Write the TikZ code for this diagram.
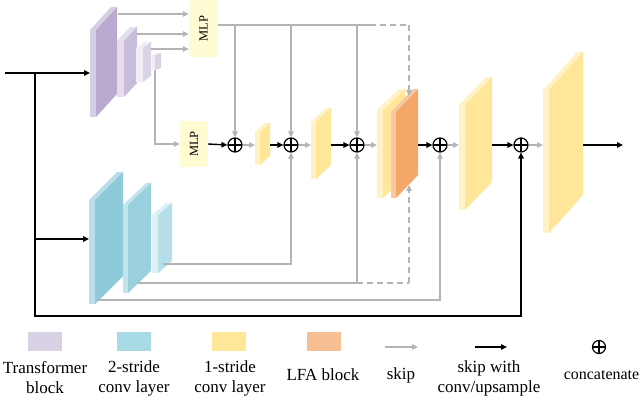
\documentclass[tikz,border=0pt]{standalone}
\usepackage{fontspec}
\setmainfont{Liberation Serif}
\usepackage{graphicx}
\usetikzlibrary{arrows.meta,calc}
\definecolor{lgray}{HTML}{B4B4B4}
\definecolor{purF}{HTML}{BBAACF}
\definecolor{purS}{HTML}{D7CEE4}
\definecolor{purF2}{HTML}{C7BCDA}
\definecolor{purS2}{HTML}{E3DDED}
\definecolor{purF3}{HTML}{DAD3E7}
\definecolor{purS3}{HTML}{F0EDF5}
\definecolor{bluF}{HTML}{8FCADB}
\definecolor{bluS}{HTML}{B8DFE9}
\definecolor{bluF2}{HTML}{9ACFDE}
\definecolor{bluS2}{HTML}{C2E4EC}
\definecolor{bluF3}{HTML}{B5DEE8}
\definecolor{bluS3}{HTML}{DDF0F4}
\definecolor{yelF}{HTML}{FFE699}
\definecolor{yelS}{HTML}{FFF2C6}
\definecolor{oraF}{HTML}{F4A868}
\definecolor{oraS}{HTML}{F8C8A0}
\definecolor{mlpc}{HTML}{FFFBD2}
\definecolor{legP}{HTML}{D9D2E4}
\definecolor{legB}{HTML}{A8DBE6}
\definecolor{legY}{HTML}{FFE699}
\definecolor{legO}{HTML}{F8BE94}
% xl t xr ytl ytr ybl front side
\newcommand\myslab[8]{%
  \pgfmathsetmacro\dd{#4-#5}%
  \fill[#8] (#1,#4) -- (#1+#2,#4) -- (#1+#2,#6) -- (#1,#6) -- cycle;
  \fill[#8] (#1,#4) -- (#3-#2,#5) -- (#3,#5) -- (#1+#2,#4) -- cycle;
  \fill[#7] (#1+#2,#4) -- (#3,#5) -- (#3,#6-\dd) -- (#1+#2,#6) -- cycle;
}
\begin{document}
\begin{tikzpicture}[x=1pt,y=-1pt,
  gl/.style={draw=lgray,line width=1.3pt,-{Triangle[length=6pt,width=5.5pt]}},
  gline/.style={draw=lgray,line width=1.3pt},
  bl/.style={draw=black,line width=1.4pt,-{Triangle[length=6pt,width=5.5pt]}},
  bline/.style={draw=black,line width=1.4pt},
  dl/.style={gl,dash pattern=on 6pt off 4pt},
  dline/.style={gline,dash pattern=on 6pt off 4pt},
  oplus/.style={circle,draw=black,line width=1.2pt,minimum size=14pt,inner sep=0pt,
    path picture={\draw[line width=1.2pt] (path picture bounding box.north) -- (path picture bounding box.south)
      (path picture bounding box.west) -- (path picture bounding box.east);}},
  mlp/.style={fill=mlpc,inner sep=0pt,font=\fontsize{12.5}{13}\selectfont},
  legtxt/.style={font=\fontsize{17}{20}\selectfont,align=center,inner sep=0pt},
  sw/.style={inner sep=0pt,minimum width=34pt,minimum height=19pt}]
\useasboundingbox (0,0) rectangle (640,398);

% transformer slabs
\myslab{90}{6}{117}{30}{7}{117}{purF}{purS}
\myslab{117}{7}{137}{41}{27}{97}{purF2}{purS2}
\myslab{136}{7}{151}{48}{42}{82}{purF3}{purS3}
\myslab{152}{3}{161}{55}{53}{70}{purF3}{purS3}
% conv slabs
\myslab{89}{6}{123}{200}{172}{304}{bluF}{bluS}
\myslab{123}{5}{151}{205}{183}{293}{bluF2}{bluS2}
\myslab{152}{6}{172}{215}{203}{273}{bluF3}{bluS3}
% decoder slabs
\myslab{255}{5}{270}{132}{123}{165}{yelF}{yelS}
\myslab{311}{5}{331}{122}{108}{179}{yelF}{yelS}
\myslab{377}{6}{405}{110}{89}{198}{yelF}{yelS}
\myslab{391}{5}{418}{112}{89}{198}{oraF}{oraS}
\myslab{459}{6}{492}{105}{77}{210}{yelF}{yelS}
\myslab{543}{6}{583}{90}{52}{233}{yelF}{yelS}

% MLP nodes
\node[mlp,minimum width=29pt,minimum height=57pt] (mlp1) at (203.5,28.5) {\rotatebox{90}{MLP}};
\node[mlp,minimum width=28pt,minimum height=46pt] (mlp2) at (194,144) {\rotatebox{90}{MLP}};

% concatenation nodes
\node[oplus] (c1) at (235,145) {};
\node[oplus] (c2) at (291,145) {};
\node[oplus] (c3) at (357,145) {};
\node[oplus] (c4) at (440,145) {};
\node[oplus] (c5) at (521,145) {};

% ports
\coordinate (in) at (5,73);
\coordinate (tin) at (90,73);
\coordinate (j) at (35,73);
\coordinate (jb) at (35,316);
\coordinate (bin) at (89,239);
\coordinate (p1o) at (118,14);
\coordinate (p2o) at (137,34);
\coordinate (p3o) at (151,49);
\coordinate (p4o) at (155,70);
\coordinate (m1o) at (218,25);
\coordinate (dk) at (370,25);
\coordinate (dk2) at (409,25);
\coordinate (oratop) at (409,96);
\coordinate (orabot) at (409,185);
\coordinate (y1i) at (255,145);
\coordinate (y1o) at (270,145);
\coordinate (y2i) at (311,145);
\coordinate (y2o) at (331,145);
\coordinate (y3i) at (377,145);
\coordinate (y3o) at (418,145);
\coordinate (y4i) at (459,145);
\coordinate (y4o) at (492,145);
\coordinate (y5i) at (543,145);
\coordinate (y5o) at (583,145);
\coordinate (out) at (623,145);
\coordinate (b3o) at (163,264);
\coordinate (b2o) at (137,283);
\coordinate (b1o) at (97,300);
\coordinate (b2k) at (357,283);
\coordinate (b2k2) at (409,283);

% input
\draw[bl] (in) -- (tin);
\draw[bl] (j) |- (bin);
\draw[bl] (j) -- (jb) -| (c5.south);

% transformer to MLPs
\draw[gl] (p1o) -- (p1o -| mlp1.west);
\draw[gl] (p2o) -- (p2o -| mlp1.west);
\draw[gl] (p3o) -- (p3o -| mlp1.west);
\draw[gl] (p4o) |- (mlp2.west);

% MLP1 skip lines
\draw[gline] (m1o) -- (dk);
\draw[dline] (dk) -- (dk2);
\draw[dl] (dk2) -- (oratop);
\draw[gl] (c1.north |- m1o) -- (c1.north);
\draw[gl] (c2.north |- m1o) -- (c2.north);
\draw[gl] (c3.north |- m1o) -- (c3.north);

% main path
\draw[bl] (mlp2.east) -- (c1.west);
\draw[gl] (c1.east) -- (y1i);
\draw[bl] (y1o) -- (c2.west);
\draw[gl] (c2.east) -- (y2i);
\draw[bl] (y2o) -- (c3.west);
\draw[gl] (c3.east) -- (y3i);
\draw[bl] (y3o) -- (c4.west);
\draw[gl] (c4.east) -- (y4i);
\draw[bl] (y4o) -- (c5.west);
\draw[gl] (c5.east) -- (y5i);
\draw[bl] (y5o) -- (out);

% conv skips
\draw[gl] (b3o) -| (c2.south);
\draw[gline] (b2o) -- (b2k);
\draw[gl] (b2k) -- (c3.south);
\draw[dline] (b2k) -- (b2k2);
\draw[dl] (b2k2) -- (orabot);
\draw[gl] (b1o) -| (c4.south);

% legend
\node[sw,fill=legP] (lp) at (44.5,341.5) {};
\node[sw,fill=legB] (lb) at (134,341.5) {};
\node[sw,fill=legY] (ly) at (229,341.5) {};
\node[sw,fill=legO] (lo) at (323.5,341.5) {};
\coordinate (lga) at (385,347);
\coordinate (lgb) at (418,347);
\coordinate (lba) at (475,347);
\coordinate (lbb) at (507,347);
\draw[gl] (lga) -- (lgb);
\draw[bl] (lba) -- (lbb);
\node[oplus,minimum size=13pt] (lc) at (599,347) {};
\node[legtxt] (t1) at (45,378) {Transformer\\block};
\node[legtxt] (t2) at (134,378) {2-stride\\conv layer};
\node[legtxt] (t3) at (230,378) {1-stride\\conv layer};
\node[legtxt] (t4) at (323,375) {LFA block};
\node[legtxt] (t5) at (401,375) {skip};
\node[legtxt] (t6) at (489,378) {skip with\\conv/upsample};
\node[legtxt,font=\fontsize{16}{20}\selectfont] (t7) at (601.5,375) {concatenate};
\end{tikzpicture}
\end{document}
